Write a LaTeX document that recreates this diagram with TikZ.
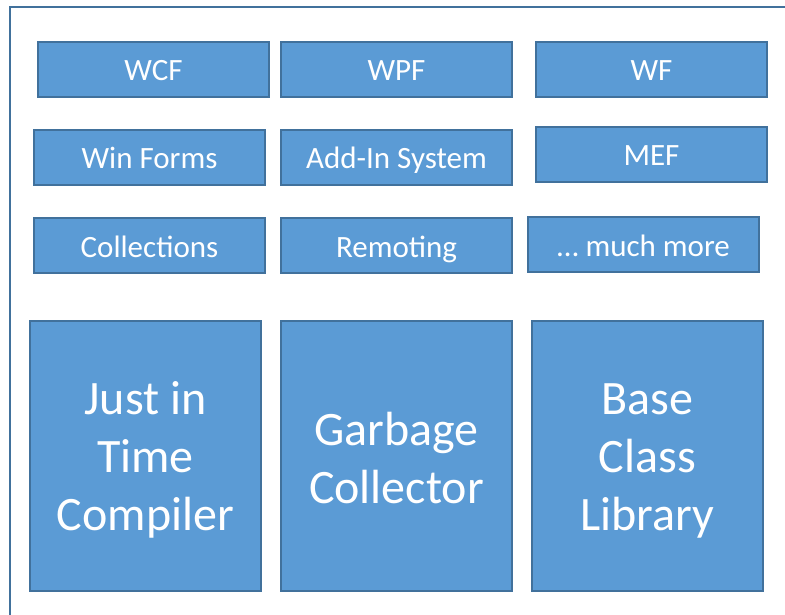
\documentclass[tikz,border=0pt]{standalone}
\usepackage{fontspec}
\setmainfont{Carlito}
\definecolor{boxfill}{HTML}{5B9BD5}
\definecolor{boxline}{HTML}{41719C}
% equal height and depth for every line of the large labels
\newcommand\corestrut{\rule[-4pt]{0pt}{44pt}}
\tikzset{
  part/.style={draw=boxline, fill=boxfill, line width=2pt, text=white,
    inner sep=0pt, minimum width=231pt, minimum height=55pt,
    text height=25pt, text depth=2pt,
    font=\fontsize{31}{38}\selectfont},
  core/.style={draw=boxline, fill=boxfill, line width=2pt, text=white,
    inner sep=0pt, minimum width=231pt, minimum height=270pt, align=center,
    font=\fontsize{48}{58}\selectfont},
  frame/.style={draw=boxline, line width=2pt, inner sep=0pt}
}
\begin{document}
\begin{tikzpicture}[x=1pt, y=-1pt]
  \useasboundingbox (0,0) rectangle (785,615);
  \clip (0,0) rectangle (785,615);
  % outer frame, running past the right and bottom edges
  \node[frame, anchor=north west, minimum width=800pt, minimum height=630pt] (outer) at (8.5,6.5) {};
  % library rows
  \node[part] (wcf) at (153.5,69.5) {WCF};
  \node[part] (wpf) at (396.5,69.5) {WPF};
  \node[part] (wf)  at (651.5,69.5) {WF};
  \node[part] (winforms) at (149.5,157.5) {Win Forms};
  \node[part] (addin)    at (396.5,157.5) {Add-In System};
  \node[part] (mef)      at (651.5,154.5) {MEF};
  \node[part] (collections) at (149.5,245.5) {Collections};
  \node[part] (remoting)    at (396.5,245.5) {Remoting};
  \node[part] (more)        at (643.5,244.5) {… much more};
  % runtime core
  \node[core] (jit) at (145.5,456) {\corestrut Just in\\\corestrut Time\\\corestrut Compiler};
  \node[core] (gc)  at (396.5,456) {\corestrut Garbage\\\corestrut Collector};
  \node[core] (bcl) at (647.5,456) {\corestrut Base\\\corestrut Class\\\corestrut Library};
\end{tikzpicture}
\end{document}
